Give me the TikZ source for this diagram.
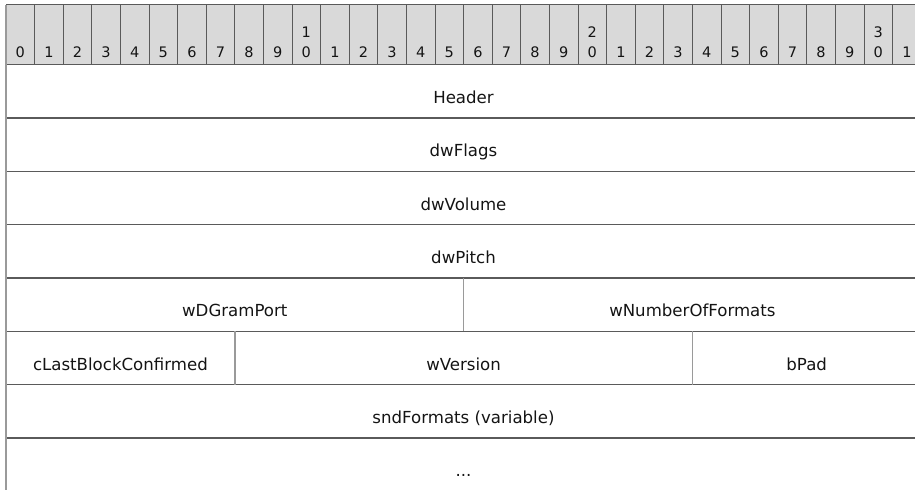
\documentclass[tikz,border=0pt]{standalone}
\usepackage{fontspec}
\setmainfont{DejaVu Sans}
\usetikzlibrary{positioning}

\definecolor{hdrgray}{HTML}{D9D9D9}
\definecolor{rulegray}{HTML}{5A5A5A}
\definecolor{sepgray}{HTML}{9A9A9A}
\definecolor{txtgray}{HTML}{141414}

\tikzset{
  bitcell/.style={draw=rulegray, line width=1pt},
  bitnum/.style={anchor=base, text=txtgray, inner sep=0pt, font=\fontsize{14.5}{15}\selectfont},
  rowline/.style={draw=rulegray, line width=1.1pt},
  splitline/.style={draw=sepgray, line width=1.4pt},
  fieldlbl/.style={anchor=base, text=txtgray, inner sep=0pt, font=\fontsize{16.6}{18}\selectfont}
}

\begin{document}
\begin{tikzpicture}[x=1pt, y=-1pt]
    \useasboundingbox (0,0) rectangle (915,490);
    % bit ruler
    \fill[hdrgray] (6,4.5) rectangle (921,64.7);
    \foreach \i in {0,...,31} {
        \draw[bitcell] ({6+28.6*\i},4.5) rectangle ++(28.6,60.2);
        \pgfmathtruncatemacro{\lo}{mod(\i,10)}
        \pgfmathtruncatemacro{\hi}{\i/10}
        \node[bitnum] (b\i) at ({20.3+28.6*\i},57.3) {\lo};
        \ifnum\lo=0 \ifnum\i>0
            \node[bitnum] (t\i) at ({20.3+28.6*\i},37.3) {\hi};
        \fi\fi
    }
    % rows
    \foreach \y in {118,171.3,224.7,278,331.3,384.7,438} {
        \draw[rowline] (6,\y) -- (921,\y);
    }
    \draw[splitline] (6,4.5) -- (6,490);
    \draw[splitline] (463.6,278) -- (463.6,331.3);
    \draw[splitline] (234.8,331.3) -- (234.8,384.7);
    \draw[splitline] (692.4,331.3) -- (692.4,384.7);
    % field labels
    \node[fieldlbl] (header) at (463.5,103.3) {Header};
    \node[fieldlbl] (flags) at (463.5,156.6) {dwFlags};
    \node[fieldlbl] (volume) at (463.5,210) {dwVolume};
    \node[fieldlbl] (pitch) at (463.5,263.3) {dwPitch};
    \node[fieldlbl] (port) at (234.8,316.6) {wDGramPort};
    \node[fieldlbl] (numfmt) at (692.4,316.6) {wNumberOfFormats};
    \node[fieldlbl] (lastblk) at (120.4,370) {cLastBlockConfirmed};
    \node[fieldlbl] (version) at (463.6,370) {wVersion};
    \node[fieldlbl] (pad) at (806.7,370) {bPad};
    \node[fieldlbl] (fmts) at (463.5,423.3) {sndFormats (variable)};
    \node[fieldlbl] (more) at (463.5,476.6) {...};
\end{tikzpicture}
\end{document}
